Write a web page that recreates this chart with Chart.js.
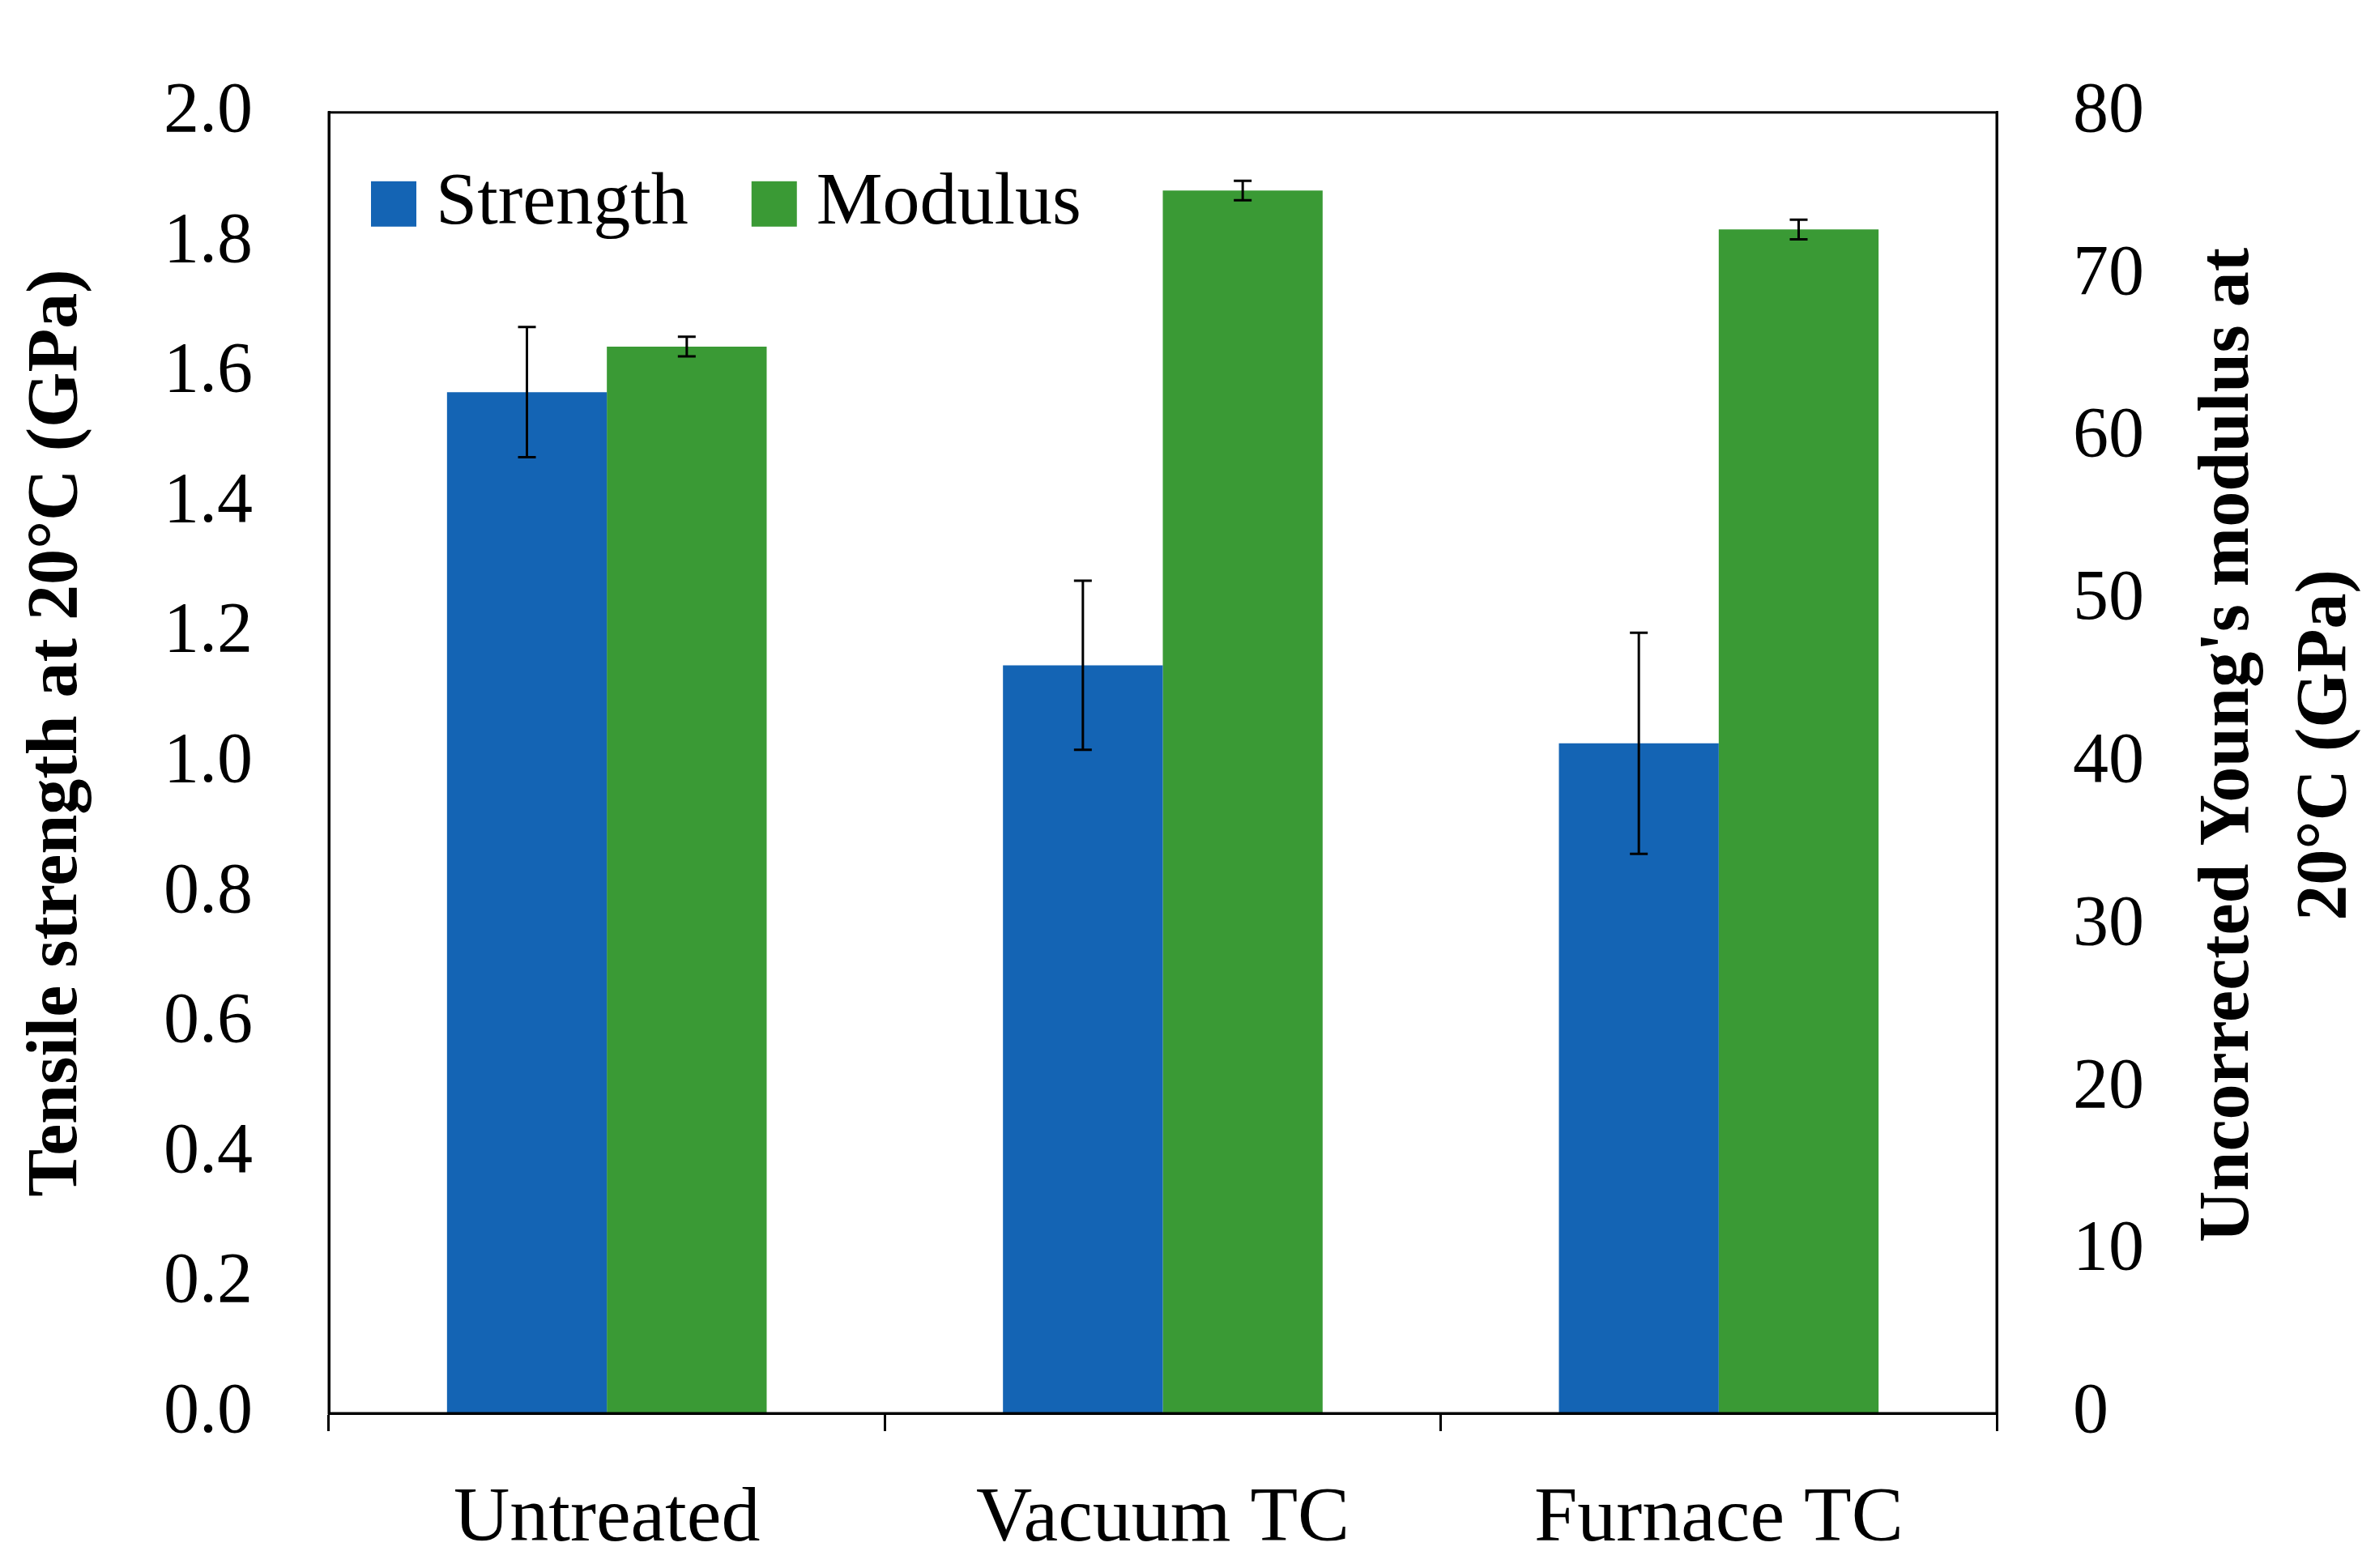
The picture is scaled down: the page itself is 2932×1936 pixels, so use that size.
<!DOCTYPE html>
<html><head><meta charset="utf-8">
<script src="https://cdn.jsdelivr.net/npm/chart.js@4"></script>
<style>html,body{margin:0;padding:0;background:#fff}#w{width:2932px;height:1936px}</style>
</head><body><div id="w"><canvas id="c"></canvas></div>
<script>
const categories = ["Untreated", "Vacuum TC", "Furnace TC"];
const strength = [1.57, 1.15, 1.03];
const strengthErr = [0.10, 0.13, 0.17];
const modulus = [65.6, 75.2, 72.8];
const modulusErr = [0.6, 0.6, 0.6];
const leftTicks = [0,0.2,0.4,0.6,0.8,1.0,1.2,1.4,1.6,1.8,2.0];
const leftTitle = 'Tensile strength at 20°C (GPa)';
const rightTitle = ["Uncorrected Young's modulus at", "20°C (GPa)"];
const FONT = "'Liberation Serif', 'DejaVu Serif', serif";

const errPlugin = {
  id: 'err',
  afterDatasetsDraw(chart) {
    const ctx = chart.ctx;
    const errs = [strengthErr, modulusErr];
    ctx.save();
    ctx.strokeStyle = '#000'; ctx.lineWidth = 3;
    chart.data.datasets.forEach((ds, i) => {
      const meta = chart.getDatasetMeta(i);
      const sc = chart.scales[ds.yAxisID];
      meta.data.forEach((bar, j) => {
        const v = ds.data[j], e = errs[i][j];
        const y1 = sc.getPixelForValue(v - e), y2 = sc.getPixelForValue(v + e);
        const x = bar.x;
        ctx.beginPath();
        ctx.moveTo(x, y1); ctx.lineTo(x, y2);
        ctx.moveTo(x - 11, y1); ctx.lineTo(x + 11, y1);
        ctx.moveTo(x - 11, y2); ctx.lineTo(x + 11, y2);
        ctx.stroke();
      });
    });
    const a = chart.chartArea;
    ctx.lineWidth = 3;
    ctx.strokeRect(a.left, a.top, a.right - a.left, a.bottom - a.top);
    // legend
    ctx.font = "92px " + FONT;
    ctx.textBaseline = 'middle';
    let x = a.left + 52; const y = a.top + 113;
    chart.data.datasets.forEach(ds => {
      ctx.fillStyle = ds.backgroundColor;
      ctx.fillRect(x, y - 28, 56, 56);
      ctx.fillStyle = '#000';
      ctx.fillText(ds.label, x + 80, y);
      x += 80 + ctx.measureText(ds.label).width + 78;
    });
    // axis titles
    ctx.font = "bold 88px " + FONT;
    ctx.textAlign = 'center';
    ctx.save();
    ctx.translate(71, 905); ctx.rotate(-Math.PI / 2);
    ctx.fillText(leftTitle, 0, 0);
    ctx.restore();
    const xs = [2752, 2872];
    rightTitle.forEach((t, k) => {
      ctx.save();
      ctx.translate(xs[k], 920); ctx.rotate(-Math.PI / 2);
      ctx.fillText(t, 0, 0);
      ctx.restore();
    });
    ctx.restore();
  }
};

new Chart(document.getElementById('c'), {
  type: 'bar',
  data: {
    labels: categories,
    datasets: [
      {label: 'Strength', data: strength, backgroundColor: '#1464b4', yAxisID: 'y', barPercentage: 1, categoryPercentage: 0.575},
      {label: 'Modulus', data: modulus, backgroundColor: '#3a9a35', yAxisID: 'y1', barPercentage: 1, categoryPercentage: 0.575}
    ]
  },
  options: {
    responsive: true, maintainAspectRatio: false, animation: false,
    layout: {padding: {top: 75, right: 0, left: 0, bottom: 0}},
    plugins: {legend: {display: false}, tooltip: {enabled: false}},
    scales: {
      x: {
        grid: {offset: true, drawOnChartArea: false, tickLength: 22, color: '#000', lineWidth: 3},
        border: {color: '#000', width: 3},
        ticks: {color: '#000', font: {family: FONT, size: 96}, padding: 52},
        afterFit(s) { s.height = 191; }
      },
      y: {
        position: 'left', min: 0, max: 2.0,
        afterBuildTicks(s) { s.ticks = leftTicks.map(v => ({value: v})); },
        grid: {display: false},
        border: {color: '#000', width: 3},
        ticks: {color: '#000', font: {family: FONT, size: 88}, padding: 86, callback: v => v.toFixed(1)},
        afterFit(s) { s.width = 406; }
      },
      y1: {
        position: 'right', min: 0, max: 80,
        grid: {display: false},
        border: {color: '#000', width: 3},
        ticks: {color: '#000', font: {family: FONT, size: 88}, stepSize: 10, padding: 86},
        afterFit(s) { s.width = 467; }
      }
    }
  },
  plugins: [errPlugin]
});
</script></body></html>
